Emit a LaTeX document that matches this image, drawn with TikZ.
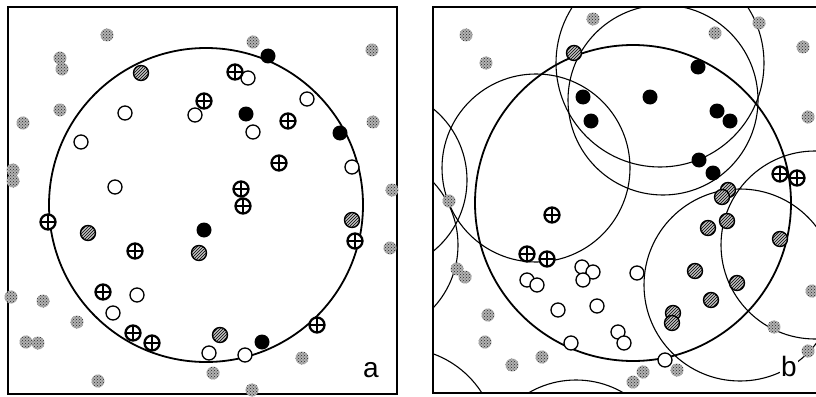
\documentclass[tikz,border=0pt]{standalone}
\usepackage{fontspec}
\setsansfont{Liberation Sans}
\usetikzlibrary{patterns}

\begin{document}
\begin{tikzpicture}[
    x=1pt, y=-1pt,
    dot/.style={circle, inner sep=0pt, minimum size=15pt},
    hollow/.style={dot, draw=black, line width=1.3pt, fill=white, minimum size=14pt},
    blackdot/.style={dot, fill=black},
    hatched/.style={dot, draw=black, line width=1.4pt, preaction={fill=black!25},
        pattern=north east lines, pattern color=black},
    crossed/.style={dot, draw=black, line width=2.3pt, fill=white,
        path picture={\draw[line width=2pt]
            (path picture bounding box.north) -- (path picture bounding box.south)
            (path picture bounding box.west) -- (path picture bounding box.east);}},
    speckle/.style={dot, minimum size=13pt, preaction={fill=black!30},
        pattern=crosshatch dots, pattern color=black!85},
    panel/.style={line width=1.2pt},
    bigring/.style={line width=1.8pt},
    ring/.style={line width=1.1pt},
    letter/.style={font=\sffamily\fontsize{28}{28}\selectfont, fill=white, inner sep=1pt}
]

\useasboundingbox (0,0) rectangle (816,396);

% Frames
\draw[panel] (8,7) rectangle (397,394);
\draw[panel] (816,7) -- (433,7) -- (433,393) -- (816,393);

% Panel a: circle
\draw[bigring] (206,205) circle[radius=157pt];

% Panel b: circles
\begin{scope}
\clip (433,7) rectangle (816,393);
\draw[bigring] (633,203) circle[radius=158pt];
\draw[ring] (660,63) circle[radius=104pt];
\draw[ring] (663,100) circle[radius=95pt];
\draw[ring] (536,168) circle[radius=94pt];
\draw[ring] (375,180) circle[radius=92pt];
\draw[ring] (366,245) circle[radius=92pt];
\draw[ring] (740,285) circle[radius=96pt];
\draw[ring] (815,245) circle[radius=94pt];
\draw[ring] (400,445) circle[radius=97pt];
\draw[ring] (576,474) circle[radius=94pt];
\end{scope}

% Panel a: background points
\node[speckle] (anoise1) at (107,35) {};
\node[speckle] (anoise2) at (60,58) {};
\node[speckle] (anoise3) at (62,69) {};
\node[speckle] (anoise4) at (60,110) {};
\node[speckle] (anoise5) at (23,123) {};
\node[speckle] (anoise6) at (13,170) {};
\node[speckle] (anoise7) at (13,181) {};
\node[speckle] (anoise8) at (253,42) {};
\node[speckle] (anoise9) at (372,50) {};
\node[speckle] (anoise10) at (373,122) {};
\node[speckle] (anoise11) at (392,190) {};
\node[speckle] (anoise12) at (390,248) {};
\node[speckle] (anoise13) at (11,297) {};
\node[speckle] (anoise14) at (43,301) {};
\node[speckle] (anoise15) at (77,322) {};
\node[speckle] (anoise16) at (26,342) {};
\node[speckle] (anoise17) at (38,343) {};
\node[speckle] (anoise18) at (98,381) {};
\node[speckle] (anoise19) at (302,358) {};
\node[speckle] (anoise20) at (213,373) {};
\node[speckle] (anoise21) at (252,390) {};

% Panel a: open points
\node[hollow] (aopen1) at (125,113) {};
\node[hollow] (aopen2) at (195,115) {};
\node[hollow] (aopen3) at (81,142) {};
\node[hollow] (aopen4) at (115,187) {};
\node[hollow] (aopen5) at (248,78) {};
\node[hollow] (aopen6) at (307,99) {};
\node[hollow] (aopen7) at (253,132) {};
\node[hollow] (aopen8) at (352,167) {};
\node[hollow] (aopen9) at (137,295) {};
\node[hollow] (aopen10) at (113,313) {};
\node[hollow] (aopen11) at (209,353) {};
\node[hollow] (aopen12) at (245,355) {};

% Panel a: black points
\node[blackdot] (ablack1) at (268,56) {};
\node[blackdot] (ablack2) at (246,114) {};
\node[blackdot] (ablack3) at (340,133) {};
\node[blackdot] (ablack4) at (204,230) {};
\node[blackdot] (ablack5) at (262,342) {};

% Panel a: hatched points
\node[hatched] (ahatch1) at (141,73) {};
\node[hatched] (ahatch2) at (88,233) {};
\node[hatched] (ahatch3) at (199,253) {};
\node[hatched] (ahatch4) at (352,220) {};
\node[hatched] (ahatch5) at (220,335) {};

% Panel a: crossed points
\node[crossed] (across1) at (204,101) {};
\node[crossed] (across2) at (235,72) {};
\node[crossed] (across3) at (288,121) {};
\node[crossed] (across4) at (279,163) {};
\node[crossed] (across5) at (241,189) {};
\node[crossed] (across6) at (243,206) {};
\node[crossed] (across7) at (48,222) {};
\node[crossed] (across8) at (135,251) {};
\node[crossed] (across9) at (355,241) {};
\node[crossed] (across10) at (103,292) {};
\node[crossed] (across11) at (133,333) {};
\node[crossed] (across12) at (152,343) {};
\node[crossed] (across13) at (317,325) {};

% Panel b: background points
\node[speckle] (bnoise1) at (466,35) {};
\node[speckle] (bnoise2) at (486,63) {};
\node[speckle] (bnoise3) at (593,19) {};
\node[speckle] (bnoise4) at (715,33) {};
\node[speckle] (bnoise5) at (759,23) {};
\node[speckle] (bnoise6) at (803,47) {};
\node[speckle] (bnoise7) at (808,117) {};
\node[speckle] (bnoise8) at (449,201) {};
\node[speckle] (bnoise9) at (457,269) {};
\node[speckle] (bnoise10) at (465,277) {};
\node[speckle] (bnoise11) at (488,315) {};
\node[speckle] (bnoise12) at (485,342) {};
\node[speckle] (bnoise13) at (512,365) {};
\node[speckle] (bnoise14) at (542,357) {};
\node[speckle] (bnoise15) at (633,382) {};
\node[speckle] (bnoise16) at (643,372) {};
\node[speckle] (bnoise17) at (677,370) {};
\node[speckle] (bnoise18) at (774,327) {};
\node[speckle] (bnoise19) at (808,351) {};
\node[speckle] (bnoise20) at (812,291) {};

% Panel b: open points
\node[hollow] (bopen1) at (582,267) {};
\node[hollow] (bopen2) at (593,272) {};
\node[hollow] (bopen3) at (583,280) {};
\node[hollow] (bopen4) at (637,273) {};
\node[hollow] (bopen5) at (527,280) {};
\node[hollow] (bopen6) at (537,285) {};
\node[hollow] (bopen7) at (558,310) {};
\node[hollow] (bopen8) at (597,306) {};
\node[hollow] (bopen9) at (618,332) {};
\node[hollow] (bopen10) at (624,343) {};
\node[hollow] (bopen11) at (571,343) {};
\node[hollow] (bopen12) at (665,360) {};

% Panel b: black points
\node[blackdot] (bblack1) at (583,97) {};
\node[blackdot] (bblack2) at (591,121) {};
\node[blackdot] (bblack3) at (650,97) {};
\node[blackdot] (bblack4) at (698,67) {};
\node[blackdot] (bblack5) at (717,111) {};
\node[blackdot] (bblack6) at (730,121) {};
\node[blackdot] (bblack7) at (699,160) {};
\node[blackdot] (bblack8) at (713,173) {};

% Panel b: hatched points
\node[hatched] (bhatch1) at (574,53) {};
\node[hatched] (bhatch2) at (728,190) {};
\node[hatched] (bhatch3) at (722,197) {};
\node[hatched] (bhatch4) at (727,221) {};
\node[hatched] (bhatch5) at (708,228) {};
\node[hatched] (bhatch6) at (780,239) {};
\node[hatched] (bhatch7) at (695,271) {};
\node[hatched] (bhatch8) at (737,283) {};
\node[hatched] (bhatch9) at (711,300) {};
\node[hatched] (bhatch10) at (673,313) {};
\node[hatched] (bhatch11) at (672,323) {};

% Panel b: crossed points
\node[crossed] (bcross1) at (552,215) {};
\node[crossed] (bcross2) at (527,254) {};
\node[crossed] (bcross3) at (547,259) {};
\node[crossed] (bcross4) at (780,174) {};
\node[crossed] (bcross5) at (797,178) {};

% Panel letters
\node[letter] (labela) at (371,370) {a};
\node[letter] (labelb) at (789,366) {b};

\end{tikzpicture}
\end{document}
